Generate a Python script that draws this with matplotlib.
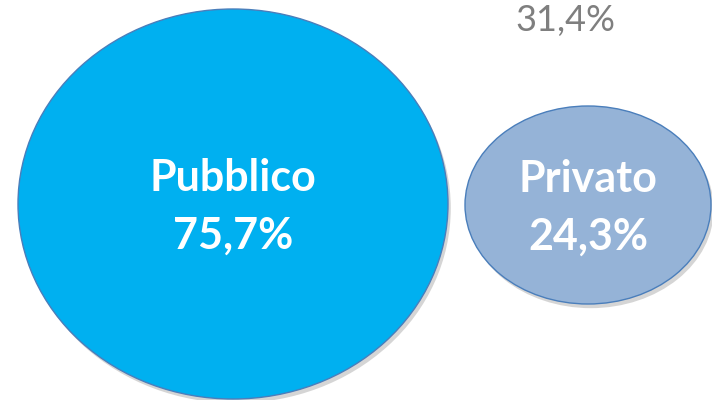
import matplotlib
matplotlib.use("Agg")
import matplotlib.pyplot as plt
from matplotlib.patches import Ellipse
import matplotlib.patheffects as pe

# data
categories = ["Pubblico", "Privato"]
values = [75.7, 24.3]
extra_label = "31,4%"

def fmt(v):
    return f"{v:.1f}".replace(".", ",") + "%"

# layout (pixel coordinates)
centers = [(233, 204), (588, 205)]
sizes = [(430, 390), (246, 198)]
face = ["#00B0F0", "#95B3D7"]
edge = ["#4A7EBB", "#4A7EBB"]

fig = plt.figure(figsize=(7.12, 4.0), dpi=100)
ax = fig.add_axes([0, 0, 1, 1])
ax.set_xlim(0, 712)
ax.set_ylim(400, 0)
ax.axis("off")

for i, cat in enumerate(categories):
    e = Ellipse(centers[i], sizes[i][0], sizes[i][1], facecolor=face[i],
                edgecolor=edge[i], linewidth=1.0,
                path_effects=[pe.SimplePatchShadow(offset=(2, -3), shadow_rgbFace="#888888", alpha=0.35),
                              pe.Normal()])
    ax.add_patch(e)
    ax.text(centers[i][0], centers[i][1] - 26, cat, ha="center", va="center",
            color="white", fontsize=31, fontweight="bold", family="Lato")
    ax.text(centers[i][0], centers[i][1] + 32, fmt(values[i]), ha="center", va="center",
            color="white", fontsize=31, fontweight="bold", family="Lato")

ax.text(565, 21, extra_label, ha="center", va="center", color="#7F7F7F",
        fontsize=26, family="Lato")

fig.savefig("out.png", dpi=100)
